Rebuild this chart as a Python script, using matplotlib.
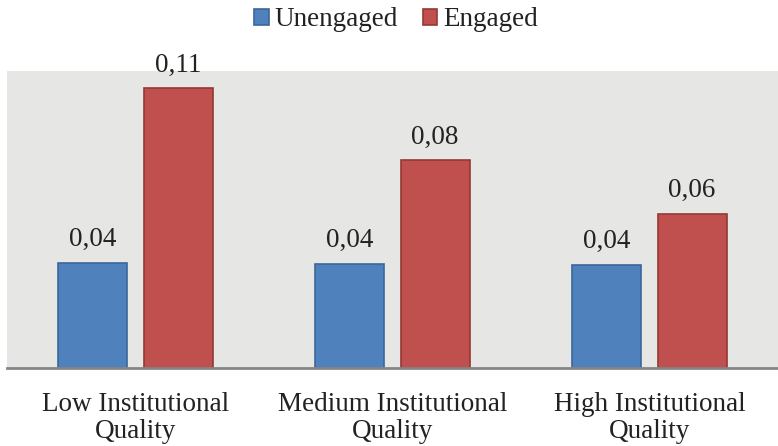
import numpy as np
import matplotlib.pyplot as plt

plt.rcParams['font.family'] = ['Liberation Serif', 'DejaVu Serif']

categories = ['Low Institutional\nQuality', 'Medium Institutional\nQuality', 'High Institutional\nQuality']
unengaged = [0.0425, 0.0421, 0.0416]
engaged = [0.113, 0.084, 0.0623]

W, H = 778, 446
fs = 19.5
fig = plt.figure(figsize=(W / 100, H / 100), dpi=100)
ax = fig.add_axes([7 / W, (H - 368) / H, 1 - 7 / W, (368 - 71) / H])
ax.set_facecolor('#e6e6e4')

x = np.arange(len(categories))
bw = 0.268
off = 0.166
b1 = ax.bar(x - off, unengaged, bw, color='#4f81bd', edgecolor='#3b679a', linewidth=1.2, label='Unengaged', zorder=2)
b2 = ax.bar(x + off, engaged, bw, color='#c0504d', edgecolor='#943836', linewidth=1.2, label='Engaged', zorder=2)

# value labels above each bar, decimal comma
for bars, vals in ((b1, unengaged), (b2, engaged)):
    for rect, v in zip(bars, vals):
        ax.annotate(f'{v:.2f}'.replace('.', ','), (rect.get_x() + rect.get_width() / 2, v),
                    xytext=(0, 12), textcoords='offset points', ha='center', va='baseline',
                    fontsize=fs, color='#222222')

ax.set_xlim(-0.5, 2.5)
ax.set_ylim(0, 0.12)
ax.set_yticks([])
ax.set_xticks(x)
ax.set_xticklabels(categories, fontsize=fs, color='#222222', linespacing=1.1)
ax.tick_params(axis='x', length=0, pad=17)
for s in ('top', 'right', 'left'):
    ax.spines[s].set_visible(False)
ax.spines['bottom'].set_color('#868686')
ax.spines['bottom'].set_linewidth(2)

fig.legend(handles=[b1, b2], loc='center', bbox_to_anchor=(396 / W, 1 - 20 / H), ncol=2,
           frameon=False, fontsize=fs, handlelength=0.55, handleheight=0.55,
           handletextpad=0.2, columnspacing=0.9, labelcolor='#222222')

fig.savefig('out.png', dpi=100)
